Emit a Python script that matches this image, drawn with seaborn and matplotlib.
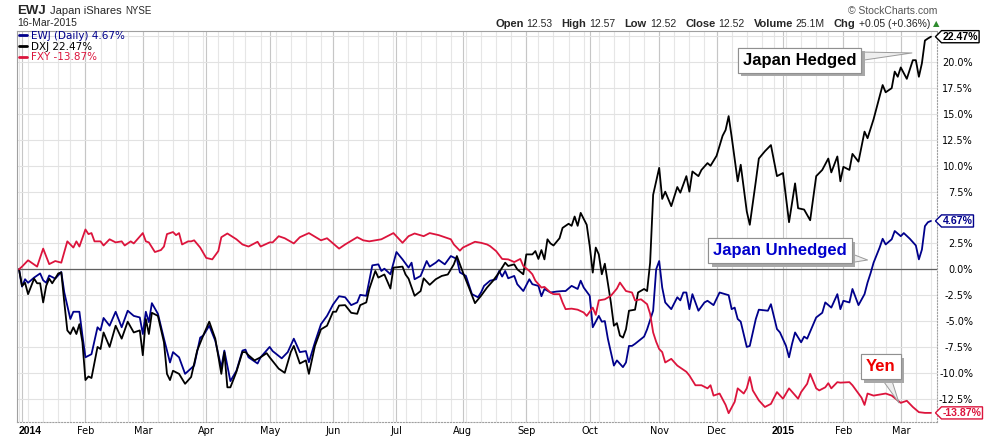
import numpy as np
import pandas as pd
import matplotlib
matplotlib.use("Agg")
import matplotlib.pyplot as plt
import seaborn as sns
from matplotlib.path import Path
from matplotlib import patheffects as pe

# trading sessions, day 0 = 2013-12-31 (base of the % change), last = 2015-03-16
holidays = ["2014-01-01", "2014-01-20", "2014-02-17", "2014-04-18", "2014-05-26",
            "2014-07-04", "2014-09-01", "2014-11-27", "2014-12-25",
            "2015-01-01", "2015-01-19", "2015-02-16"]

# DXJ (Japan hedged) - % change
dxj_day = [0, 1, 2, 3, 5, 6, 7, 8, 9, 10, 11, 13, 14, 15, 16, 17, 18, 19, 20, 21, 22, 23, 24, 26, 27, 28,
           30, 32, 34, 36, 38, 40, 41, 42, 43, 44, 46, 48, 49, 50, 51, 53, 55, 57, 59, 61, 63, 65, 67, 68,
           69, 70, 72, 74, 75, 76, 78, 80, 82, 83, 86, 88, 90, 91, 93, 95, 96, 98, 100, 102, 104, 105, 106,
           108, 110, 112, 113, 115, 116, 118, 119, 121, 123, 124, 127, 128, 129, 131, 133, 134, 136, 138,
           140, 142, 144, 145, 147, 149, 151, 153, 155, 157, 159, 161, 162, 164, 165, 167, 168, 170, 171,
           172, 173, 174, 175, 176, 177, 179, 180, 182, 183, 184, 185, 186, 188, 189, 190, 191, 192, 193,
           194, 196, 197, 198, 199, 200, 201, 202, 204, 205, 207, 208, 209, 210, 212, 213, 214, 216, 218,
           219, 221, 222, 223, 225, 226, 228, 229, 231, 233, 234, 235, 236, 238, 239, 241, 242, 244, 245,
           247, 248, 249, 251, 253, 255, 257, 258, 260, 262, 264, 266, 268, 269, 271, 272, 273, 275, 276,
           278, 280, 281, 283, 286, 287, 289, 290, 291, 292, 294, 296, 297, 298, 299, 300, 301, 302]
dxj_pct = [0.0, -1.6, -1.3, -2.4, -0.9, -1.35, -1.35, -3.2, -1.6, -0.9, -1.35, -0.4, -0.3, -3.2, -5.9, -6.25,
           -5.6, -6.25, -5.3, -7.05, -10.7, -10.35, -10.5, -7.5, -7.7, -6.1, -7.5, -5.45, -6.7, -5.06, -6.1,
           -5.9, -8.3, -4.8, -6.25, -4.2, -4.5, -7.05, -10.1, -10.7, -9.8, -10.1, -11.06, -10.4, -7.85, -6.4,
           -5.06, -6.7, -10.1, -8.0, -11.4, -11.4, -9.9, -8.0, -8.0, -8.3, -8.8, -8.5, -8.1, -8.5, -9.6,
           -10.0, -8.0, -7.4, -9.1, -8.8, -10.1, -7.4, -5.8, -5.45, -4.1, -4.1, -3.5, -3.46, -4.2, -4.3,
           -3.46, -3.2, -1.9, -0.16, -0.8, -0.5, -1.86, 0.16, 0.26, -0.5, -0.9, -2.56, -2.1, -0.87, -1.5,
           -0.96, -0.64, -0.5, 0.48, 1.28, -0.3, -1.76, -3.27, -2.56, -1.76, -1.1, -0.3, 0.64, 0.32, 0.48,
           0.0, -0.48, 1.44, 1.44, 1.76, 1.0, 1.86, 0.96, 2.9, 2.5, 2.3, 3.0, 4.0, 4.4, 4.2, 5.1, 4.2, 5.45,
           4.3, 2.24, -0.32, 2.1, 1.44, -0.48, 0.54, -3.2, -5.45, -5.2, -6.4, -6.6, -5.8, -4.0, -3.9, -2.24,
           -1.9, -2.1, 0.64, 7.2, 9.8, 6.8, 7.5, 6.1, 7.95, 7.4, 9.0, 7.5, 9.45, 9.0, 9.6, 10.26, 10.0,
           10.96, 12.9, 13.46, 14.8, 12.8, 8.5, 10.1, 5.6, 4.3, 8.5, 10.7, 11.4, 11.7, 12.0, 9.0, 9.3, 4.55,
           8.3, 5.9, 5.77, 4.74, 9.0, 9.6, 10.7, 9.36, 10.9, 8.5, 9.9, 9.6, 11.15, 10.4, 13.3, 12.66, 14.5,
           17.8, 17.1, 17.5, 19.1, 18.6, 19.5, 18.4, 20.2, 20.2, 18.6, 19.9, 22.1, 22.3, 22.47]

# EWJ (Japan unhedged)
ewj_day = [0, 1, 2, 3, 5, 7, 8, 9, 10, 12, 14, 15, 17, 18, 20, 21, 22, 24, 26, 27, 28, 30, 32, 34, 36, 38,
           40, 41, 42, 43, 44, 46, 48, 50, 51, 53, 55, 58, 60, 61, 63, 65, 67, 68, 70, 72, 74, 75, 76, 79,
           80, 83, 84, 87, 89, 91, 93, 95, 96, 98, 100, 102, 104, 106, 108, 110, 112, 113, 115, 117, 119,
           120, 121, 123, 125, 127, 129, 130, 131, 133, 135, 136, 138, 139, 141, 143, 145, 146, 148, 150,
           152, 153, 154, 156, 158, 159, 160, 161, 162, 164, 165, 167, 169, 170, 172, 173, 174, 176, 178,
           180, 181, 183, 185, 186, 187, 189, 190, 192, 193, 194, 195, 197, 198, 200, 201, 202, 203, 204,
           207, 208, 210, 211, 212, 213, 214, 216, 218, 219, 220, 221, 222, 223, 225, 227, 228, 230, 232,
           235, 236, 237, 238, 239, 241, 242, 244, 245, 248, 249, 251, 252, 254, 255, 256, 257, 259, 260,
           261, 264, 266, 267, 269, 271, 272, 273, 275, 276, 278, 280, 281, 282, 283, 285, 286, 287, 289,
           290, 292, 293, 295, 297, 298, 299, 300, 301, 302]
ewj_pct = [0.0, -1.67, -0.96, -1.3, -0.8, -0.4, -1.06, -1.3, -0.6, -0.9, -0.26, -2.24, -4.8, -4.1, -4.1,
           -6.4, -8.5, -8.2, -5.6, -5.9, -4.7, -5.45, -4.1, -5.6, -4.0, -4.5, -4.65, -6.25, -4.1, -5.1,
           -3.27, -4.3, -6.7, -9.0, -8.0, -8.5, -10.1, -9.3, -6.6, -6.4, -5.45, -6.9, -9.5, -7.85, -10.8,
           -9.8, -7.85, -7.76, -8.5, -9.1, -8.5, -7.5, -7.9, -8.6, -8.0, -6.7, -8.0, -7.9, -8.97, -7.05,
           -5.3, -4.5, -3.4, -2.6, -2.7, -3.46, -3.2, -2.47, -2.56, 0.38, 0.48, -0.16, 0.06, -0.48, 1.67,
           0.96, 0.16, 0.64, -0.96, -0.64, 0.8, 0.26, 0.64, 0.9, 0.48, 1.28, 1.0, -0.3, -0.64, -2.4, -2.7,
           -2.24, -1.6, -1.1, -0.96, -0.16, -0.7, -0.16, -0.87, -0.64, -1.44, -2.1, -0.96, -1.44, -1.6,
           -2.6, -1.9, -2.24, -2.15, -2.1, -2.1, -1.6, -1.9, -1.1, -1.76, -2.56, -5.6, -4.5, -5.06, -5.0,
           -6.7, -9.3, -8.8, -9.45, -9.0, -7.4, -7.4, -7.2, -6.5, -5.8, -4.0, 0.0, 0.8, -1.76, -3.2,
           -3.85, -2.7, -3.0, -2.24, -2.24, -3.85, -2.4, -4.0, -3.2, -3.04, -3.46, -2.24, -2.5, -3.85,
           -3.7, -4.8, -5.06, -7.5, -7.4, -4.8, -3.9, -4.0, -3.37, -5.77, -6.1, -7.4, -8.5, -7.2, -6.1,
           -7.05, -6.5, -6.7, -4.65, -4.2, -3.2, -3.7, -2.4, -3.85, -3.04, -3.2, -1.9, -3.46, -2.4, -1.28,
           -0.38, 0.64, 2.1, 2.95, 2.4, 2.9, 3.7, 3.2, 3.5, 2.95, 2.3, 0.96, 1.9, 4.17, 4.55, 4.67]

# FXY (yen)
fxy_day = [0, 1, 3, 6, 8, 10, 12, 14, 16, 18, 19, 20, 22, 23, 24, 25, 27, 28, 30, 32, 34, 35, 37, 38, 41,
           42, 43, 45, 47, 48, 49, 51, 52, 53, 54, 56, 57, 58, 60, 62, 64, 66, 67, 69, 72, 74, 75, 76, 79,
           80, 83, 84, 86, 88, 91, 93, 96, 100, 102, 104, 106, 108, 112, 114, 116, 120, 124, 127, 129,
           131, 134, 136, 139, 143, 144, 146, 147, 151, 153, 155, 156, 158, 160, 162, 164, 166, 167, 169,
           170, 171, 173, 174, 176, 177, 179, 180, 181, 183, 185, 187, 188, 190, 191, 192, 194, 196, 198,
           199, 201, 203, 204, 206, 208, 209, 210, 211, 212, 213, 214, 216, 218, 221, 222, 224, 226, 228,
           229, 230, 232, 234, 235, 237, 238, 240, 241, 242, 243, 245, 247, 249, 251, 253, 255, 258, 259,
           261, 262, 264, 265, 267, 268, 269, 271, 272, 275, 276, 278, 279, 280, 281, 283, 285, 287, 289,
           291, 292, 294, 296, 298, 300, 302]
fxy_pct = [0.0, 0.26, 0.87, 0.26, 2.0, 0.5, 0.8, 0.64, 2.7, 2.1, 2.7, 2.2, 3.85, 3.4, 3.5, 2.7, 2.7, 2.3,
           2.9, 2.6, 2.7, 2.3, 2.7, 2.5, 3.5, 2.7, 2.6, 1.67, 1.86, 2.2, 3.4, 3.6, 3.3, 3.5, 2.4, 2.7, 2.7,
           2.8, 2.1, 1.1, 0.96, 1.76, 3.1, 3.46, 2.9, 2.4, 2.3, 2.2, 2.66, 2.2, 2.6, 2.6, 3.2, 3.0, 2.5,
           3.1, 3.5, 2.8, 3.0, 2.5, 2.0, 2.4, 3.1, 2.8, 2.7, 2.9, 3.5, 2.56, 3.2, 3.46, 3.2, 3.5, 3.3, 2.9,
           2.4, 1.8, 2.1, 2.66, 2.56, 2.4, 2.24, 1.76, 1.0, 0.96, 0.7, 1.0, 0.32, -0.16, -0.48, -1.1,
           -1.76, -1.7, -2.24, -2.4, -2.4, -3.2, -3.85, -3.8, -3.9, -4.17, -4.5, -3.7, -4.4, -3.0, -2.9,
           -2.56, -1.86, -1.28, -2.1, -2.24, -3.0, -2.9, -3.37, -4.3, -6.1, -7.0, -7.7, -8.0, -9.0, -8.65,
           -9.3, -9.9, -10.26, -11.2, -11.2, -11.5, -11.2, -12.2, -12.0, -13.1, -13.9, -12.8, -11.5, -12.0,
           -11.5, -10.4, -11.7, -12.66, -13.3, -13.0, -11.86, -12.5, -11.5, -12.5, -11.86, -11.06, -10.1,
           -11.5, -11.7, -11.4, -11.0, -11.5, -10.9, -10.95, -10.9, -11.2, -12.0, -12.4, -13.1, -12.0,
           -12.2, -12.1, -12.0, -12.2, -12.66, -12.9, -12.7, -13.3, -13.8, -13.87, -13.87]

ewj_last, dxj_last, fxy_last = 4.67, 22.47, -13.87
ohlc = [("Open", "12.53"), ("High", "12.57"), ("Low", "12.52"), ("Close", "12.52"),
        ("Volume", "25.1M"), ("Chg", "+0.05 (+0.36%)")]

NAVY, CRIMSON = "#00008b", "#dc143c"

sessions = pd.bdate_range("2013-12-31", "2015-03-16")
sessions = sessions[~sessions.isin(pd.to_datetime(holidays))]
idx = pd.Series(np.arange(len(sessions)), index=sessions)
month_first = idx.groupby([sessions.year, sessions.month]).first().iloc[1:]
week_first = idx.groupby(sessions.to_period("W")).first()

sns.set_theme(style="white")
plt.rcParams["font.family"] = ["DejaVu Sans"]

W, H = 990, 438
fig = plt.figure(figsize=(W / 100, H / 100), dpi=100)
ax = fig.add_axes([16.5 / W, 1 - 422 / H, (937 - 16.5) / W, (422 - 31) / H])

for d in week_first.values:
    ax.axvline(d, color="#e6e6e6", lw=0.8, zorder=0)
for d in month_first.values:
    ax.axvline(d, color="#c6c6c6", lw=0.8, zorder=0)
grid_y = np.arange(-12.5, 22.6, 2.5)
for v in grid_y:
    ax.axhline(v, color="#e2e2e2", lw=0.8, zorder=0)
ax.axhline(0, color="#606060", lw=0.9, zorder=1)

sns.lineplot(x=ewj_day, y=ewj_pct, color=NAVY, lw=1.3, label=f"EWJ (Daily) {ewj_last:.2f}%", ax=ax)
sns.lineplot(x=dxj_day, y=dxj_pct, color="black", lw=1.3, label=f"DXJ {dxj_last:.2f}%", ax=ax)
sns.lineplot(x=fxy_day, y=fxy_pct, color=CRIMSON, lw=1.3, label=f"FXY {fxy_last:.2f}%", ax=ax)

ax.set_xlim(-0.83, 304)
ax.set_ylim(-14.75, 23.02)
ax.set_xlabel("")
ax.set_ylabel("")

# x axis: month labels, years in bold
labels = [str(y) if m == 1 else pd.Timestamp(y, m, 1).strftime("%b") for y, m in month_first.index]
ticks = list(month_first.values)
ticks[0] = 0
ax.set_xticks(ticks)
ax.set_xticklabels(labels)
ax.tick_params(axis="x", length=0, pad=3, labelsize=7, colors="black")
for i, lab in enumerate(ax.get_xticklabels()):
    if lab.get_text().isdigit():
        lab.set_fontweight("bold")
        lab.set_family("Liberation Sans")
        lab.set_fontsize(7.5)
    if i == 0:
        lab.set_ha("left")

# right axis labels up to 20%, the 5% label sits under the EWJ tag
yt = np.arange(-12.5, 20.1, 2.5)
ax.yaxis.tick_right()
ax.set_yticks(yt)
ax.set_yticklabels(["" if abs(v - 5) < 0.01 else f"{v:.1f}%" for v in yt])
ax.tick_params(axis="y", length=0, pad=26, labelsize=7, colors="black")
for lab in ax.get_yticklabels():
    lab.set_ha("right")

for side in ["left", "top"]:
    ax.spines[side].set_color("#a0a0a0")
    ax.spines[side].set_linewidth(0.8)
for side in ["right", "bottom"]:
    ax.spines[side].set_color("#a0a0a0")
    ax.spines[side].set_linestyle(":")
    ax.spines[side].set_linewidth(0.8)

leg = ax.legend(loc="upper left", bbox_to_anchor=(0.0, 1.005), frameon=False, fontsize=7.5,
                handlelength=0.8, handletextpad=0.35, labelspacing=0.05, borderaxespad=0.1,
                borderpad=0.1, labelcolor="linecolor")
for h in leg.get_lines():
    h.set_linewidth(2)


def tag_box(x0, y0, width, height, mutation_size):
    pad = 0.1 * mutation_size
    x0, y0 = x0 - pad, y0 - pad
    x1, y1 = x0 + width + 2 * pad, y0 + height + 2 * pad
    tip = (y1 - y0) / 2
    return Path([(x0, y0), (x1, y0), (x1, y1), (x0, y1), (x0 - tip, y0 + tip), (x0, y0)], closed=True)


for val, col in [(dxj_last, "black"), (ewj_last, NAVY), (fxy_last, CRIMSON)]:
    ax.annotate(f"{val:.2f}%", xy=(1, val), xycoords=("axes fraction", "data"), xytext=(4, 0),
                textcoords="offset points", ha="left", va="center", fontsize=7.6, fontweight="bold",
                family="Liberation Sans", color=col, annotation_clip=False, zorder=5,
                bbox=dict(boxstyle=tag_box, fc="white", ec=col, lw=1.0))


def callout(text, color, tip, center):
    t = ax.annotate(text, xy=tip, xytext=center, ha="center", va="center", fontsize=12,
                    fontweight="bold", color=color, family="Liberation Sans",
                    bbox=dict(boxstyle="square,pad=0.3", fc="white", ec="#909090", lw=0.8),
                    arrowprops=dict(arrowstyle="wedge,tail_width=0.5", fc="#eeeeee", ec="#9a9a9a",
                                    lw=0.7, shrinkA=0, shrinkB=0))
    t.get_bbox_patch().set_path_effects([pe.withSimplePatchShadow(offset=(2.5, -2.5),
                                                                  shadow_rgbFace="#a8a8a8", alpha=1),
                                         pe.Normal()])


callout("Japan Hedged", "black", (295.7, 20.9), (258.5, 20.2))
callout("Japan Unhedged", "#0000cc", (281, 0.9), (252, 1.8))
callout("Yen", "#ee0000", (291.4, -12.9), (285.4, -9.4))

# header
renderer = fig.canvas.get_renderer()


def flow(pieces, x, y):
    for txt, gap, kw in pieces:
        t = fig.text(x / W, 1 - y / H, txt, ha="left", va="center", **kw)
        x = t.get_window_extent(renderer).x1 + gap
    return x


flow([("EWJ", 4, dict(fontsize=9.5, fontweight="bold", family="Liberation Sans")),
      ("Japan iShares", 4, dict(fontsize=8, family="Liberation Sans")),
      ("NYSE", 0, dict(fontsize=7, family="Liberation Sans"))], 17, 11)
fig.text(17 / W, 1 - 23 / H, "16-Mar-2015", ha="left", va="center", fontsize=7.5, family="Liberation Sans")
fig.text(937 / W, 1 - 11.5 / H, "\u00a9 StockCharts.com", ha="right", va="center", fontsize=7.5,
         family="Liberation Sans", color="#555555")
pieces = []
for lab, val in ohlc:
    pieces.append((lab, 3, dict(fontsize=8, fontweight="bold", family="Liberation Sans")))
    pieces.append((val, 9, dict(fontsize=7.5, family="Liberation Sans")))
x_end = flow(pieces, 495, 24)
fig.text((x_end - 6) / W, 1 - 24 / H, "\u25b2", ha="left", va="center", fontsize=6, color="#2e8b2e")

fig.savefig("out.png", dpi=100, facecolor="white")
